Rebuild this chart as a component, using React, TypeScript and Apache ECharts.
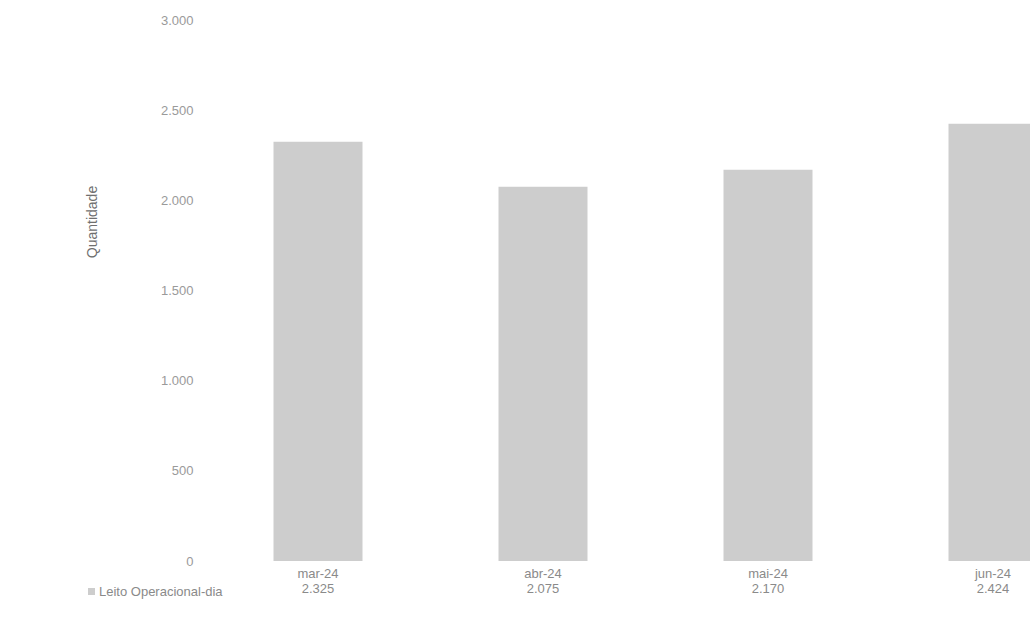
import React, { useEffect, useRef } from "react";
import * as echarts from "echarts";

const categories = ["mar-24", "abr-24", "mai-24", "jun-24"];
const values = [2325, 2075, 2170, 2424];
const seriesName = "Leito Operacional-dia";
const yAxisTitle = "Quantidade";

const fmt = (v: number) => String(v).replace(/\B(?=(\d{3})+(?!\d))/g, ".");

export default function App() {
  const ref = useRef<HTMLDivElement>(null);
  useEffect(() => {
    if (!ref.current) return;
    const chart = echarts.init(ref.current, null, { renderer: "svg" });
    const font = "'Liberation Sans', Arial, sans-serif";
    chart.setOption({
      animation: false,
      backgroundColor: "#ffffff",
      textStyle: { fontFamily: font },
      grid: { left: 205.5, top: 20, width: 900, bottom: 59, containLabel: false },
      legend: {
        left: 83,
        top: 580,
        itemWidth: 7,
        itemHeight: 7,
        itemGap: 4,
        icon: "rect",
        textStyle: { color: "#8a8a8a", fontSize: 13, fontFamily: font, padding: [0, 0, 0, -1] },
        data: [seriesName],
      },
      graphic: [
        {
          type: "text",
          x: 92,
          y: 222,
          rotation: Math.PI / 2,
          style: {
            text: yAxisTitle,
            fill: "#6f6f6f",
            fontSize: 14,
            fontFamily: font,
            align: "center",
            verticalAlign: "middle",
          },
        },
      ],
      xAxis: {
        type: "category",
        data: categories,
        axisLine: { show: false },
        axisTick: { show: false },
        axisLabel: {
          color: "#8a8a8a",
          fontSize: 13,
          lineHeight: 15,
          margin: 5,
          formatter: (v: string, i: number) => `${v}\n${fmt(values[i])}`,
        },
      },
      yAxis: {
        type: "value",
        min: 0,
        max: 3000,
        interval: 500,
        axisLine: { show: false },
        axisTick: { show: false },
        splitLine: { show: false },
        axisLabel: {
          color: "#9a9a9a",
          fontSize: 13,
          margin: 12,
          formatter: (v: number) => fmt(v),
        },
      },
      series: [
        {
          name: seriesName,
          type: "bar",
          data: values,
          barWidth: 89,
          itemStyle: { color: "#cdcdcd" },
        },
      ],
    });
    return () => chart.dispose();
  }, []);
  return (
    <div style={{ position: "fixed", left: 0, top: 0, width: 1030, height: 620, overflow: "hidden", background: "#fff" }}>
      <div ref={ref} style={{ width: 1110, height: 620 }} />
    </div>
  );
}
